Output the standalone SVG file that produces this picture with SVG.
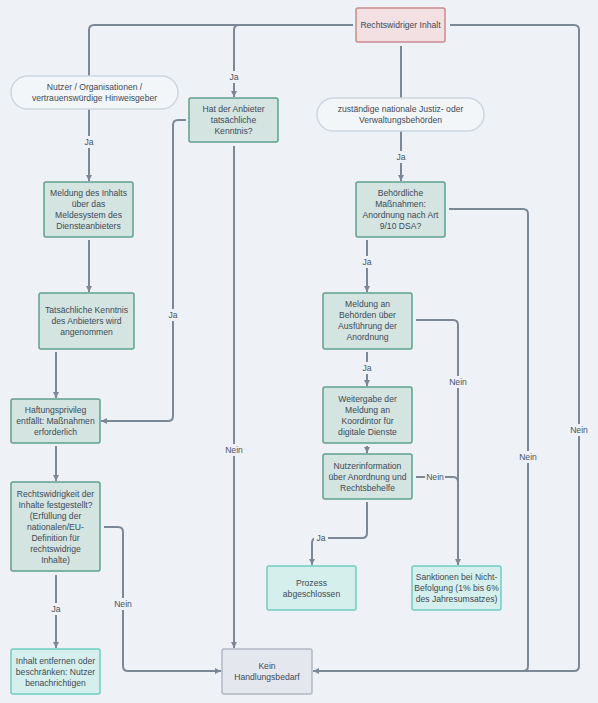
<svg xmlns="http://www.w3.org/2000/svg" width="598" height="703" viewBox="0 0 598 703">
<defs>
<style>
.bg{fill:#eef2f6}
.n rect{stroke-width:1.5}
.proc{fill:#d3e4e1;stroke:#5fa08f}
.start{fill:#f3e0e2;stroke:#cc8a8f}
.src{fill:#f3f6f9;stroke:#cdd6e0}
.end{fill:#d4efec;stroke:#6ccfc0}
.none{fill:#e4e7ee;stroke:#b3b8c4}
text{font-family:"Liberation Sans",Arial,sans-serif;font-size:8.6px;fill:#3f4a56;text-anchor:middle;dominant-baseline:central}
.e path{fill:none;stroke:#7d8896;stroke-width:2}
.lb rect{fill:#eef2f6}
.lb text{fill:#4a5563}
</style>
<marker id="ar" viewBox="0 0 10 10" refX="10" refY="5" markerWidth="6" markerHeight="6" markerUnits="userSpaceOnUse" orient="auto">
<path d="M0,0 L10,5 L0,10 z" fill="#7d8896"/>
</marker>
</defs>
<rect class="bg" x="0" y="0" width="598" height="703"/>

<g id="connectors" class="e">
<path d="M353,25 H94 Q89,25 89,30 V76"/>
<path d="M353,25 H239 Q234,25 234,30 V97" marker-end="url(#ar)"/>
<path d="M401,46 V98"/>
<path d="M450,25 H574 Q579,25 579,30 V666 Q579,671 574,671 H313" marker-end="url(#ar)"/>
<path d="M89,109 V181" marker-end="url(#ar)"/>
<path d="M186,120 H178 Q173,120 173,125 V416 Q173,421 168,421 H101" marker-end="url(#ar)"/>
<path d="M234,146 V648" marker-end="url(#ar)"/>
<path d="M401,131 V181" marker-end="url(#ar)"/>
<path d="M89,240 V292" marker-end="url(#ar)"/>
<path d="M367,240 V292" marker-end="url(#ar)"/>
<path d="M449,209 H523 Q528,209 528,214 V666 Q528,671 523,671 H313"/>
<path d="M56,352 V398" marker-end="url(#ar)"/>
<path d="M367,352 V386" marker-end="url(#ar)"/>
<path d="M416,320 H453 Q458,320 458,325 V565" marker-end="url(#ar)"/>
<path d="M367,446 V453" marker-end="url(#ar)"/>
<path d="M416,477 H453 Q458,477 458,482 V565"/>
<path d="M367,502 V533 Q367,538 362,538 H317 Q312,538 312,543 V565" marker-end="url(#ar)"/>
<path d="M56,446 V481" marker-end="url(#ar)"/>
<path d="M56,575 V648" marker-end="url(#ar)"/>
<path d="M104,527 H118 Q123,527 123,532 V666 Q123,671 128,671 H221" marker-end="url(#ar)"/>
<g class="lb">
<rect x="227" y="71" width="14" height="12"/><text x="234" y="77">Ja</text>
<rect x="569" y="424" width="20" height="12"/><text x="579" y="430">Nein</text>
<rect x="82" y="136" width="14" height="12"/><text x="89" y="142">Ja</text>
<rect x="166" y="309" width="14" height="12"/><text x="173" y="315">Ja</text>
<rect x="224" y="444" width="20" height="12"/><text x="234" y="450">Nein</text>
<rect x="394" y="151" width="14" height="12"/><text x="401" y="157">Ja</text>
<rect x="360" y="256" width="14" height="12"/><text x="367" y="262">Ja</text>
<rect x="518" y="451" width="20" height="12"/><text x="528" y="457">Nein</text>
<rect x="360" y="362" width="14" height="12"/><text x="367" y="368">Ja</text>
<rect x="448" y="376" width="20" height="12"/><text x="458" y="382">Nein</text>
<rect x="425" y="471" width="20" height="12"/><text x="435" y="477">Nein</text>
<rect x="314" y="532" width="14" height="12"/><text x="321" y="538">Ja</text>
<rect x="49" y="603" width="14" height="12"/><text x="56" y="609">Ja</text>
<rect x="113" y="598" width="20" height="12"/><text x="123" y="604">Nein</text>
</g>
</g>

<g id="n-start" class="n"><rect class="start" x="356" y="8" width="89" height="34" rx="2"/><text x="400.5" y="25">Rechtswidriger Inhalt</text></g>
<g id="n-nutzer" class="n"><rect class="src" x="11" y="76" width="167" height="33" rx="16.5"/><text x="94.5" y="87">Nutzer / Organisationen /</text><text x="94.5" y="98">vertrauenswürdige Hinweisgeber</text></g>
<g id="n-kenntnis" class="n"><rect class="proc" x="189" y="98" width="89" height="44" rx="2"/><text x="233.5" y="109">Hat der Anbieter</text><text x="233.5" y="120">tatsächliche</text><text x="233.5" y="131">Kenntnis?</text></g>
<g id="n-behoerden" class="n"><rect class="src" x="317" y="98" width="167" height="33" rx="16.5"/><text x="400.5" y="109">zuständige nationale Justiz- oder</text><text x="400.5" y="120">Verwaltungsbehörden</text></g>
<g id="n-meldung" class="n"><rect class="proc" x="44" y="182" width="89" height="55" rx="2"/><text x="88.5" y="193">Meldung des Inhalts</text><text x="88.5" y="204">über das</text><text x="88.5" y="215">Meldesystem des</text><text x="88.5" y="226">Diensteanbieters</text></g>
<g id="n-anordnung" class="n"><rect class="proc" x="356" y="182" width="89" height="55" rx="2"/><text x="400.5" y="193">Behördliche</text><text x="400.5" y="204">Maßnahmen:</text><text x="400.5" y="215">Anordnung nach Art</text><text x="400.5" y="226">9/10 DSA?</text></g>
<g id="n-angenommen" class="n"><rect class="proc" x="39" y="293" width="95" height="56" rx="2"/><text x="86.5" y="310">Tatsächliche Kenntnis</text><text x="86.5" y="321">des Anbieters wird</text><text x="86.5" y="332">angenommen</text></g>
<g id="n-ausfuehrung" class="n"><rect class="proc" x="323" y="293" width="89" height="56" rx="2"/><text x="367.5" y="304">Meldung an</text><text x="367.5" y="315">Behörden über</text><text x="367.5" y="326">Ausführung der</text><text x="367.5" y="337">Anordnung</text></g>
<g id="n-haftung" class="n"><rect class="proc" x="11" y="399" width="89" height="44" rx="2"/><text x="55.5" y="410">Haftungsprivileg</text><text x="55.5" y="421">entfällt: Maßnahmen</text><text x="55.5" y="432">erforderlich</text></g>
<g id="n-weitergabe" class="n"><rect class="proc" x="323" y="387" width="89" height="56" rx="2"/><text x="367.5" y="399">Weitergabe der</text><text x="367.5" y="410">Meldung an</text><text x="367.5" y="421">Koordintor für</text><text x="367.5" y="432">digitale Dienste</text></g>
<g id="n-nutzerinfo" class="n"><rect class="proc" x="323" y="454" width="89" height="45" rx="2"/><text x="367.5" y="466">Nutzerinformation</text><text x="367.5" y="477">über Anordnung und</text><text x="367.5" y="488">Rechtsbehelfe</text></g>
<g id="n-rechtswidrigkeit" class="n"><rect class="proc" x="11" y="482" width="89" height="89" rx="2"/><text x="55.5" y="494">Rechtswidrigkeit der</text><text x="55.5" y="505">Inhalte festgestellt?</text><text x="55.5" y="516">(Erfüllung der</text><text x="55.5" y="527">nationalen/EU-</text><text x="55.5" y="538">Definition für</text><text x="55.5" y="549">rechtswidrige</text><text x="55.5" y="560">Inhalte)</text></g>
<g id="n-prozess" class="n"><rect class="end" x="267" y="566" width="89" height="44" rx="2"/><text x="311.5" y="582.5">Prozess</text><text x="311.5" y="593.5">abgeschlossen</text></g>
<g id="n-sanktionen" class="n"><rect class="end" x="412" y="566" width="89" height="44" rx="2"/><text x="456.5" y="577">Sanktionen bei Nicht-</text><text x="456.5" y="588">Befolgung (1% bis 6%</text><text x="456.5" y="599">des Jahresumsatzes)</text></g>
<g id="n-entfernen" class="n"><rect class="end" x="11" y="649" width="89" height="45" rx="2"/><text x="55.5" y="660.5">Inhalt entfernen oder</text><text x="55.5" y="671.5">beschränken: Nutzer</text><text x="55.5" y="682.5">benachrichtigen</text></g>
<g id="n-kein" class="n"><rect class="none" x="222" y="649" width="90" height="45" rx="2"/><text x="267" y="666">Kein</text><text x="267" y="677">Handlungsbedarf</text></g>
</svg>
